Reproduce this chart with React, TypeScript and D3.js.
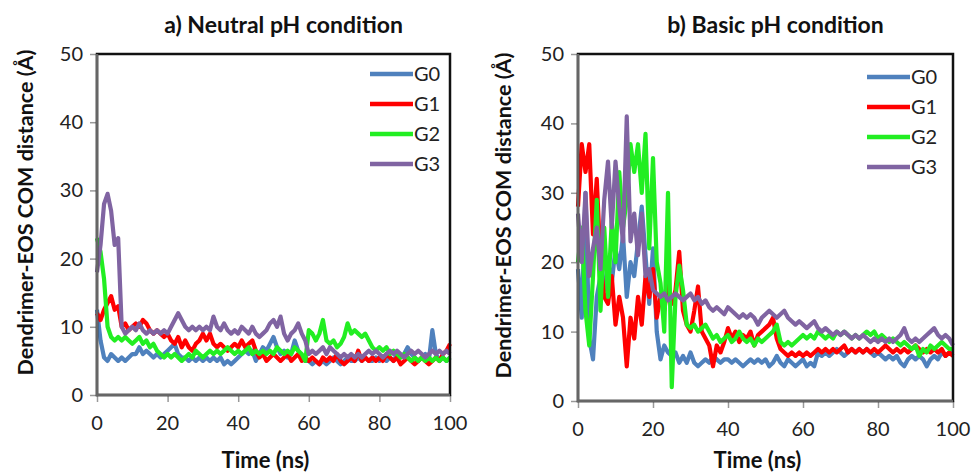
import { useEffect, useRef } from 'react';
import * as d3 from 'd3';

// time axis shared by every series (ns)
const time = d3.range(0, 101);

const seriesNames = ['G0', 'G1', 'G2', 'G3'];
const seriesColors = ['#4F81BD', '#FF0000', '#22EE22', '#8064A2'];

const xTicks = [0, 20, 40, 60, 80, 100];
const yTicks = [0, 10, 20, 30, 40, 50];

// a) neutral pH
const neutralG0 = [
  12.5, 8, 5.5, 5, 6, 5.5, 5, 5.5, 5, 5.5, 6, 6, 7, 6, 6.5, 6, 5.5, 6, 5.5, 6,
  6.5, 7, 7.5, 6, 5.5, 5.5, 5, 5.5, 5, 5.5, 5, 5.5, 5, 5.5, 5, 5.5, 4.5, 5, 4.5, 5,
  5.5, 6, 6.5, 6, 6.5, 5, 6, 7, 6.5, 7.5, 8.5, 7, 6, 6.5, 5.5, 6, 8, 6.5, 5.5, 5,
  5, 4.5, 5, 4.5, 5, 4.5, 5, 5.5, 5, 4.5, 5, 5.5, 5, 5, 5.5, 5, 5.5, 5, 5, 5.5,
  5, 5.5, 5, 5.5, 5, 6, 5.5, 6, 7, 6, 5.5, 5, 5.5, 6, 5, 9.5, 6, 5, 5.5, 5, 5.5,
];
const neutralG1 = [
  12, 11, 12.5, 13.5, 14.5, 12.5, 13, 10, 10.5, 9.5, 10, 10.5, 10, 11, 10.5, 9.5, 9, 9.5, 9, 8.5,
  9, 8, 7.5, 8.5, 7, 8, 7, 6.5, 7.5, 8, 9, 8, 9, 7.5, 7, 7.5, 7, 6.5, 7, 7.5,
  7, 8, 7, 7.5, 8, 6.5, 5.5, 6, 5, 5.5, 6, 5.5, 5, 5.5, 6, 5, 5.5, 6, 5, 5.5,
  5, 5.5, 5, 4.5, 5.5, 5, 5.5, 5, 6, 5, 4.5, 5, 5.5, 5, 6.5, 5, 5.5, 5, 5.5, 5,
  5.5, 5, 6, 5.5, 5, 5.5, 4.5, 5, 5.5, 5, 4.5, 5, 5.5, 5, 4.5, 5, 5.5, 5, 6, 6.5, 7.5,
];
const neutralG2 = [
  23, 21, 17, 10, 8.5, 8, 8.5, 8, 8.5, 8, 7.5, 8, 8.5, 7.5, 8, 7, 7.5, 6.5, 6, 5.5,
  6, 5.5, 6, 5.5, 5, 5.5, 6, 5.5, 6.5, 6, 5.5, 6, 6.5, 6, 6.5, 6, 6.5, 7, 6.5, 6,
  6.5, 6, 6.5, 7, 6, 6.5, 6, 6.5, 6, 6.5, 6, 7, 6.5, 6, 6.5, 6, 7, 6.5, 6, 5,
  9.5, 9, 8, 9, 11, 8, 7.5, 8, 7, 7.5, 8.5, 10.5, 9, 9.5, 9, 8.5, 9, 8, 7, 6.5,
  7, 6.5, 7, 6, 6.5, 6, 5.5, 6, 5.5, 5, 5.5, 5, 5.5, 5, 5.5, 5, 5.5, 5, 5.5, 5, 5.5,
];
const neutralG3 = [
  18, 22, 28, 29.5, 27, 22, 23, 10, 9, 9.5, 10, 9.5, 10.5, 9.5, 9, 9.5, 9, 9.5, 9, 9.5,
  9, 10, 11, 12, 11, 10, 9.5, 10, 9.5, 10, 9.5, 10, 9.5, 11.5, 10, 9.5, 10.5, 9.5, 9, 9.5,
  9, 10, 9.5, 9, 10, 9, 8.5, 9, 9.5, 10.5, 11, 10, 11.5, 9, 8, 9, 9.5, 10.5, 9, 8,
  6, 6.5, 6, 6.5, 7, 6, 7, 6.5, 6, 5.5, 6, 5.5, 6, 5.5, 6, 5.5, 6, 6.5, 6, 6.5,
  6, 5.5, 6, 6.5, 6, 6.5, 6, 5.5, 6, 6.5, 6, 6.5, 6, 5.5, 6, 6.5, 6, 6.5, 6, 6.5, 6,
];

// b) basic pH
const basicG0 = [
  19, 12, 30, 9, 6, 15, 18, 16, 20, 17, 22, 19, 24, 15, 20, 18, 23, 28, 21, 14,
  22, 10, 6, 8, 7, 6.5, 7, 5.5, 6.5, 5.5, 7, 5.5, 5, 5.5, 6, 5.5, 6.5, 6, 5.5, 6,
  6, 5.5, 6, 5.5, 5, 5.5, 6, 5.5, 6, 5.5, 6, 5, 5.5, 6.5, 5.5, 5, 6, 5.5, 5, 5.5,
  6, 5, 5.5, 5, 7, 6.5, 7, 6.5, 7, 7.5, 7, 6.5, 7, 7.5, 7, 7.5, 7, 7.5, 7, 6.5,
  7, 6.5, 6, 6.5, 6, 6.5, 5.5, 5, 6, 6.5, 6, 6.5, 6, 5, 6, 6.5, 6, 7, 6.5, 7, 7,
];
const basicG1 = [
  28, 37, 33, 37, 24, 32, 20, 15, 14, 18, 11, 15, 12, 5, 12, 9, 15, 11, 18, 15,
  19, 12, 15, 13, 17, 14, 16, 21.5, 13, 11, 10, 13, 16.5, 10, 9, 8, 5, 8, 7, 8.5,
  10.5, 9, 10, 8.5, 9.5, 9, 10, 8, 9.5, 10, 10.5, 11, 12, 9, 7.5, 7, 6.5, 7, 6.5, 7,
  6.5, 7, 6.5, 7, 7.5, 7, 7.5, 7, 7.5, 7, 7.5, 8, 7, 7.5, 7, 7.5, 7, 7.5, 7, 7.5,
  7, 7.5, 8, 7.5, 7, 7.5, 7, 7.5, 7, 7.5, 8, 7.5, 7, 7.5, 7, 7.5, 7, 7.5, 6.5, 7, 6.5,
];
const basicG2 = [
  20, 25, 13, 8, 18, 29, 13, 25, 15, 26, 20, 33, 25, 29, 37, 33, 37, 30, 38.5, 22,
  35, 20, 17, 10, 30, 2, 15, 19.5, 16, 11, 10.5, 11, 10, 10.5, 11, 10, 9, 9.5, 8.5, 9,
  9.5, 8.5, 9, 10, 9, 8.5, 9, 8, 9, 8.5, 9, 9.5, 10, 11, 8.5, 8, 8.5, 8, 8.5, 9,
  9.5, 9, 9.5, 9, 10, 9.5, 9, 9.5, 9, 10, 9.5, 10, 9.5, 9, 9.5, 9, 9.5, 10, 9.5, 10,
  9, 9.5, 9, 8.5, 9, 8.5, 8, 8.5, 8, 7.5, 8, 6.5, 7.5, 7, 8, 7.5, 8, 8.5, 8, 7.5, 7.5,
];
const basicG3 = [
  27, 20, 30, 18, 22, 25, 19, 29, 34.5, 25, 34.5, 28, 23, 41, 23, 27, 21, 27, 18, 19,
  16, 15.5, 15, 15.5, 14.5, 15, 15.5, 15, 14.5, 15, 15.5, 14.5, 15, 14, 14.5, 13.5, 13, 13.5, 13, 12.5,
  13.5, 13, 12.5, 12, 12.5, 12, 12.5, 12, 11, 12, 12.5, 13, 12.5, 12, 12.5, 13, 12, 11.5, 11, 11.5,
  11, 10.5, 11, 11.5, 10.5, 10, 10.5, 10, 9.5, 10, 9.5, 10, 9.5, 9, 9.5, 9, 9.5, 9, 8.5, 9,
  8.5, 9, 8.5, 9, 8.5, 9, 9.5, 10.5, 9, 8.5, 9, 8.5, 9, 9.5, 10, 10.5, 9.5, 9, 9.5, 9, 8,
];

const panels = [
  {
    title: 'a) Neutral pH condition',
    series: [neutralG0, neutralG1, neutralG2, neutralG3],
    left: 97, right: 450, top: 54, bottom: 395,
    yLabelX: 25, legendX: 370, legendY: 74,
  },
  {
    title: 'b) Basic pH condition',
    series: [basicG0, basicG1, basicG2, basicG3],
    left: 578, right: 953, top: 54, bottom: 401,
    yLabelX: 503, legendX: 867, legendY: 77,
  },
];

const FONT = "Lato, 'Open Sans', sans-serif";

function App() {
  const svgRef = useRef(null);

  useEffect(() => {
    const svg = d3.select(svgRef.current);
    svg.selectAll('*').remove();

    panels.forEach((p) => {
      const x = d3.scaleLinear().domain([0, 100]).range([p.left, p.right]);
      const y = d3.scaleLinear().domain([0, 50]).range([p.bottom, p.top]);
      const g = svg.append('g');

      // tick marks (outside the box)
      g.append('g')
        .attr('transform', `translate(${p.left},0)`)
        .call(d3.axisLeft(y).tickValues(yTicks).tickSize(7).tickFormat(() => ''))
        .call((a) => a.select('.domain').remove())
        .call((a) => a.selectAll('line').attr('stroke', '#999').attr('stroke-width', 1.5));
      g.append('g')
        .attr('transform', `translate(0,${p.bottom})`)
        .call(d3.axisBottom(x).tickValues(xTicks).tickSize(7).tickFormat(() => ''))
        .call((a) => a.select('.domain').remove())
        .call((a) => a.selectAll('line').attr('stroke', '#999').attr('stroke-width', 1.5));

      // tick labels
      g.selectAll('.ylab')
        .data(yTicks)
        .enter()
        .append('text')
        .attr('x', p.left - 14)
        .attr('y', (d) => y(d) + 7)
        .attr('text-anchor', 'end')
        .attr('font-family', FONT)
        .attr('font-size', 20)
        .attr('fill', '#222')
        .text((d) => d);
      g.selectAll('.xlab')
        .data(xTicks)
        .enter()
        .append('text')
        .attr('x', (d) => x(d))
        .attr('y', p.bottom + 35)
        .attr('text-anchor', 'middle')
        .attr('font-family', FONT)
        .attr('font-size', 20)
        .attr('fill', '#222')
        .text((d) => d);

      // series lines
      const line = d3.line<number>()
        .x((_, i) => x(time[i]))
        .y((d) => y(d));
      p.series.forEach((vals, i) => {
        g.append('path')
          .datum(vals)
          .attr('d', line)
          .attr('fill', 'none')
          .attr('stroke', seriesColors[i])
          .attr('stroke-width', 4.2)
          .attr('stroke-linejoin', 'round');
      });

      // box: black top/right, gray axes left/bottom
      g.append('rect')
        .attr('x', p.left)
        .attr('y', p.top)
        .attr('width', p.right - p.left)
        .attr('height', p.bottom - p.top)
        .attr('fill', 'none')
        .attr('stroke', '#111')
        .attr('stroke-width', 2.5);
      g.append('path')
        .attr('d', `M${p.left},${p.top}V${p.bottom}H${p.right}`)
        .attr('fill', 'none')
        .attr('stroke', '#666')
        .attr('stroke-width', 2.5);

      // legend
      seriesNames.forEach((name, i) => {
        const ly = p.legendY + i * 30;
        g.append('line')
          .attr('x1', p.legendX)
          .attr('x2', p.legendX + 43)
          .attr('y1', ly)
          .attr('y2', ly)
          .attr('stroke', seriesColors[i])
          .attr('stroke-width', 4.5);
        g.append('text')
          .attr('x', p.legendX + 44)
          .attr('y', ly + 7)
          .attr('font-family', FONT)
          .attr('font-size', 20)
          .attr('fill', '#222')
          .text(name);
      });

      // titles and axis labels
      const mid = (p.left + p.right) / 2;
      g.append('text')
        .attr('x', mid + 10)
        .attr('y', 33)
        .attr('text-anchor', 'middle')
        .attr('font-family', FONT)
        .attr('font-weight', 'bold')
        .attr('font-size', 23)
        .attr('fill', '#111')
        .text(p.title);
      g.append('text')
        .attr('x', mid - 8)
        .attr('y', 468)
        .attr('text-anchor', 'middle')
        .attr('font-family', FONT)
        .attr('font-weight', 'bold')
        .attr('font-size', 22)
        .attr('fill', '#111')
        .text('Time (ns)');
      g.append('text')
        .attr('transform', `translate(${p.yLabelX},${(p.top + p.bottom) / 2 - 12}) rotate(-90)`)
        .attr('text-anchor', 'middle')
        .attr('dy', '0.35em')
        .attr('font-family', FONT)
        .attr('font-weight', 'bold')
        .attr('font-size', 21.5)
        .attr('fill', '#111')
        .text('Dendrimer-EOS COM distance (Å)');
    });
  }, []);

  return (
    <svg
      ref={svgRef}
      width={973}
      height={475}
      style={{ position: 'absolute', left: 0, top: 0, background: '#fff' }}
    />
  );
}

export default App;
